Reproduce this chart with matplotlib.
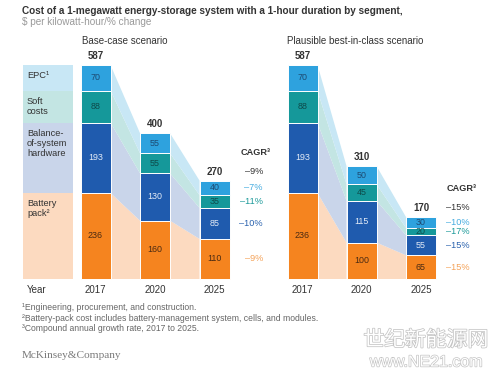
import matplotlib.pyplot as plt
import matplotlib.patheffects as pe
import numpy as np

plt.rcParams['font.family'] = ['Liberation Sans', 'DejaVu Sans']

# data
years = ['2017', '2020', '2025']
segments = ['Battery\npack²', 'Balance-\nof-system\nhardware', 'Soft\ncosts', 'EPC¹']
base_case = [[236, 193, 88, 70],
             [160, 130, 55, 55],
             [110, 85, 35, 40]]
best_case = [[236, 193, 88, 70],
             [100, 115, 45, 50],
             [65, 55, 20, 30]]
base_totals = [587, 400, 270]
best_totals = [587, 310, 170]
base_cagr = ['–9%', '–10%', '–11%', '–7%']
best_cagr = ['–15%', '–15%', '–17%', '–10%']
base_cagr_total = '–9%'
best_cagr_total = '–15%'

# styles (battery, bos, soft, epc)
dark = ['#F5841F', '#1F5BAE', '#15989A', '#2EA2DE']
light = ['#FCDAC0', '#C9D5EA', '#C3E5E3', '#C8E7F5']
txt = ['#4A2A12', '#E4ECF7', '#0E4A4A', '#1D4A72']
cagr_col = ['#F4A35A', '#2A62AE', '#1C9A9A', '#45ACE0']

W, H = 500, 376
PX = 0.3646          # px per $ unit
Y0 = 279             # pixel row of zero
fig = plt.figure(figsize=(W / 100, H / 100), dpi=100)
ax = fig.add_axes([0, 0, 1, 1])
ax.set_xlim(0, W)
ax.set_ylim(-(H - Y0) / PX, Y0 / PX)
ax.axis('off')

def ftext(x, y, s, **kw):
    fig.text(x / W, 1 - y / H, s, **kw)

bw = 30
fs = 7
panels = [(base_case, base_totals, base_cagr, base_cagr_total, [95.5, 155, 214.5]),
          (best_case, best_totals, best_cagr, best_cagr_total, [302.5, 361.5, 421])]

for data, totals, cagr, cagr_tot, xs in panels:
    data = np.array(data)
    bottoms = np.hstack([np.zeros((3, 1)), np.cumsum(data, axis=1)[:, :-1]])
    # flows between bars
    for i in range(2):
        for k in range(4):
            x0 = xs[i] + bw / 2
            x1 = xs[i + 1] - bw / 2
            ax.fill([x0, x0, x1, x1],
                    [bottoms[i, k], bottoms[i, k] + data[i, k],
                     bottoms[i + 1, k] + data[i + 1, k], bottoms[i + 1, k]],
                    color=light[k], lw=0, zorder=1)
    for i in range(3):
        ax.bar(xs[i], data[i], bottom=bottoms[i], width=bw, color=dark,
               edgecolor='white', linewidth=0.7, zorder=2)
        for k in range(4):
            ax.text(xs[i], bottoms[i, k] + data[i, k] / 2, str(data[i, k]),
                    ha='center', va='center', fontsize=6.4, color=txt[k], zorder=3)
        ax.annotate(str(totals[i]), (xs[i], totals[i]), xytext=(0, 6.5),
                    textcoords='offset points', ha='center', va='center',
                    fontsize=fs, fontweight='bold', color='#333333')
        ax.annotate(years[i], (xs[i], 0), xytext=(0, -8), textcoords='offset points',
                    ha='center', va='center', fontsize=fs, color='#333333')
    # CAGR column
    xr = xs[2] + bw / 2 + 33.5
    for k in range(4):
        ax.text(xr, bottoms[2, k] + data[2, k] / 2, cagr[k], ha='right', va='center',
                fontsize=6.6, color=cagr_col[k])
    ax.annotate(cagr_tot, (xr, totals[2]), xytext=(0, 6.5), textcoords='offset points',
                ha='right', va='center', fontsize=6.6, color='#333333')
    ax.annotate('CAGR³', (xs[2] + bw / 2 + 11, totals[2]), xytext=(0, 20.5),
                textcoords='offset points', ha='left', va='center',
                fontsize=6.6, fontweight='bold', color='#333333')

# segment label column
d17 = np.array(base_case[0])
b17 = np.concatenate([[0], np.cumsum(d17)[:-1]])
ax.bar(48, d17, bottom=b17, width=50, color=light, linewidth=0, zorder=1)
for k in range(4):
    ax.annotate(segments[k], (27, b17[k] + d17[k]), xytext=(0, -4.5),
                textcoords='offset points', ha='left', va='top', fontsize=6.7,
                color='#333333', linespacing=1.15)
ax.annotate('Year', (27, 0), xytext=(0, -8), textcoords='offset points',
            ha='left', va='center', fontsize=fs, color='#333333')

# titles
ftext(22, 11, 'Cost of a 1-megawatt energy-storage system with a 1-hour duration by segment,',
      fontsize=7.2, fontweight='bold', color='#333333', va='center')
ftext(22, 22, '$ per kilowatt-hour/% change', fontsize=7.2, color='#9A9A9A', va='center')
ftext(82, 41, 'Base-case scenario', fontsize=fs, color='#333333', va='center')
ftext(287, 41, 'Plausible best-in-class scenario', fontsize=fs, color='#333333', va='center')

# footnotes
notes = ['¹Engineering, procurement, and construction.',
         '²Battery-pack cost includes battery-management system, cells, and modules.',
         '³Compound annual growth rate, 2017 to 2025.']
for j, n in enumerate(notes):
    ftext(22, 308 + j * 10.2, n, fontsize=6.2, color='#666666', va='center')
ftext(22, 356, 'McKinsey&Company', fontsize=8.1, color='#7A7A7A', va='center',
      family='Liberation Serif')

# watermark
ftext(426, 340, '世纪新能源网', fontsize=15, color='white', ha='center', va='center',
      family=['Noto Sans CJK SC', 'DejaVu Sans'],
      path_effects=[pe.withStroke(linewidth=1.1, foreground='#C4C4C4')])
ftext(426, 362, 'www.NE21.com', fontsize=11.5, color='white', ha='center', va='center',
      path_effects=[pe.withStroke(linewidth=1.0, foreground='#C4C4C4')])

fig.savefig('out.png', dpi=100)
